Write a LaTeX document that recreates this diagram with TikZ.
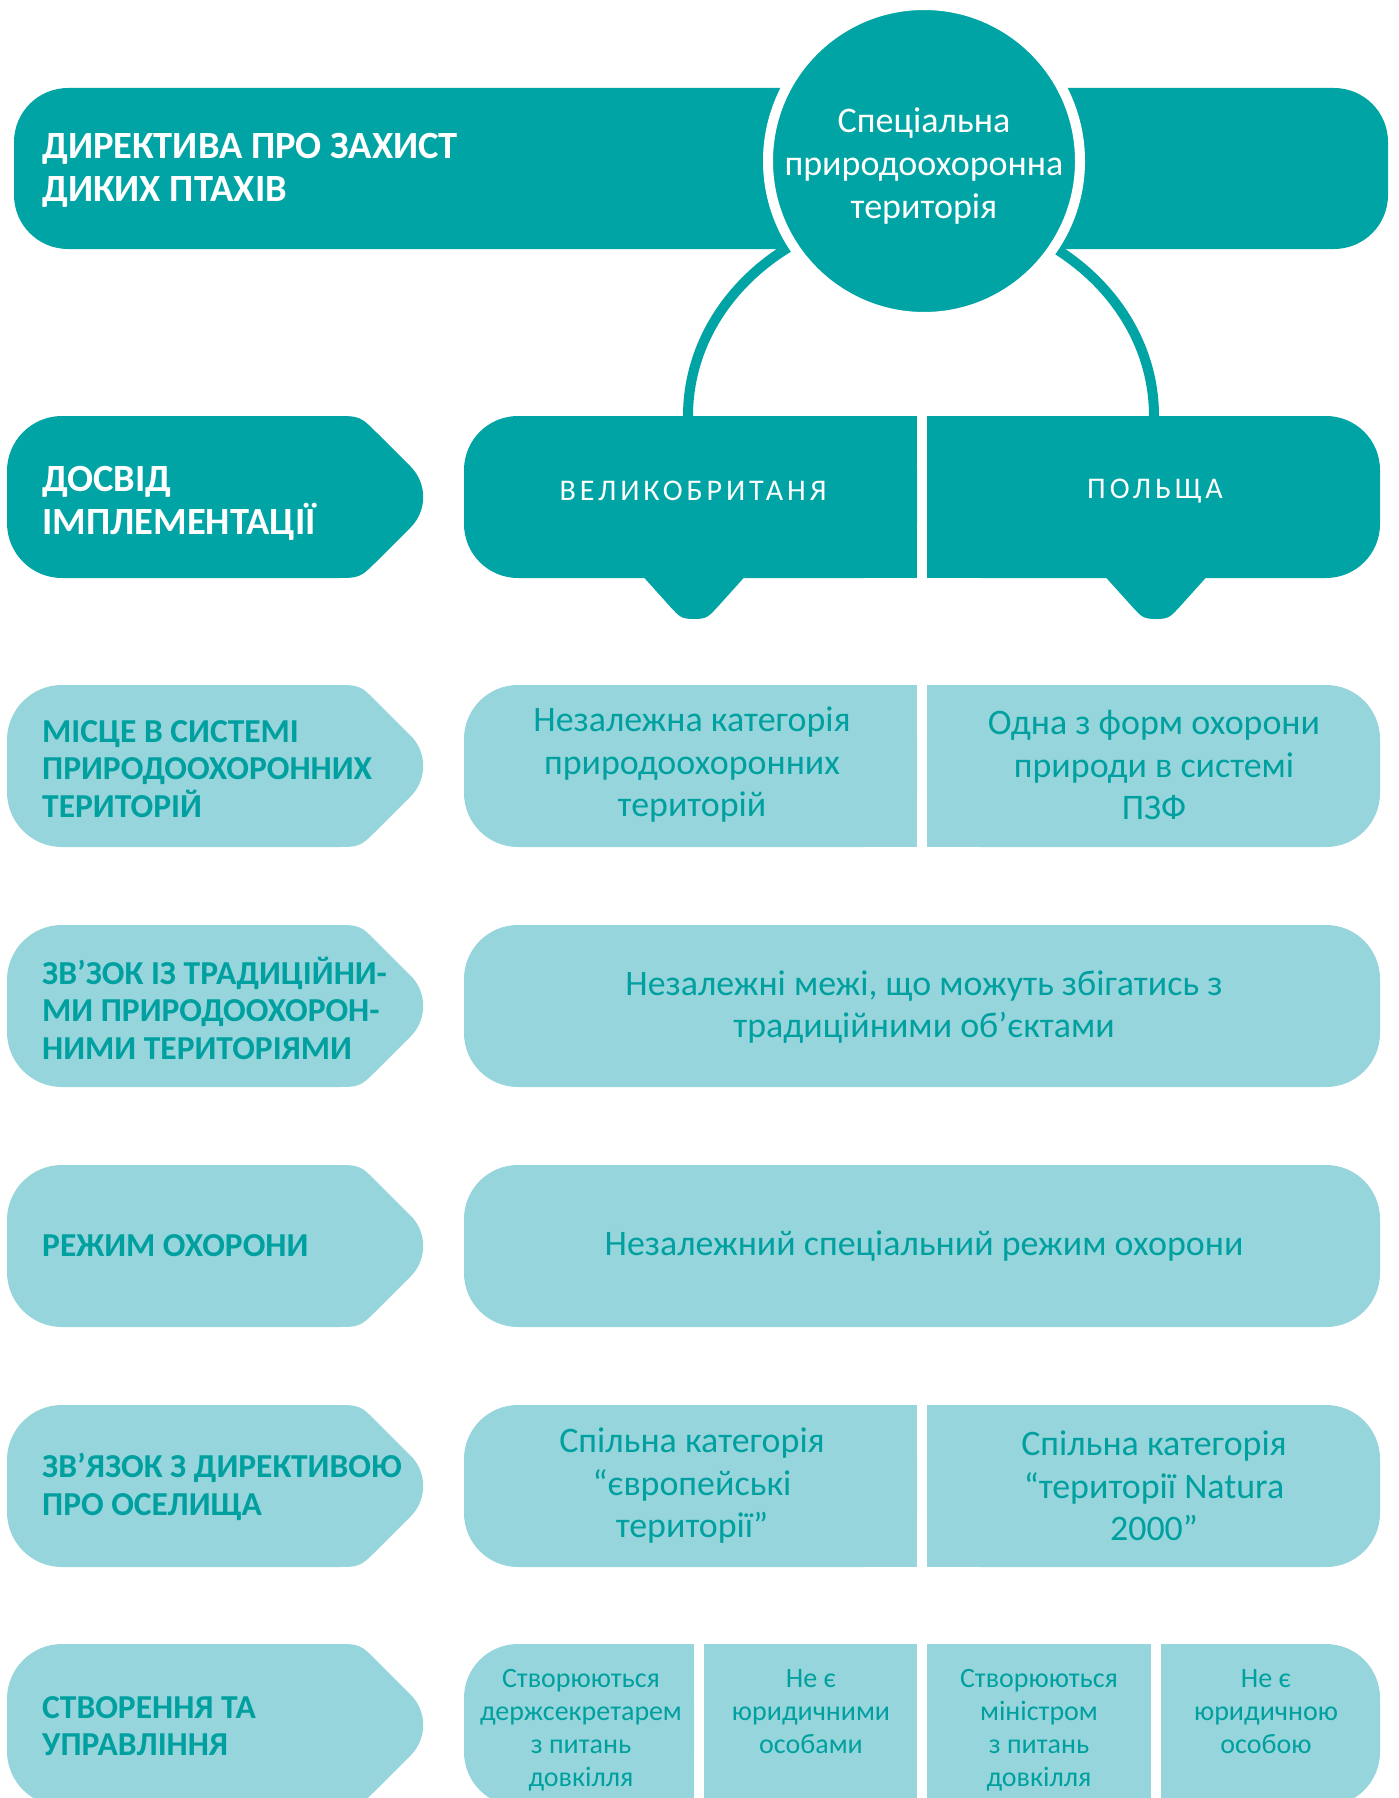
\documentclass[tikz,border=0pt]{standalone}
\usepackage{fontspec}
\setmainfont{Carlito}
\newfontfamily\spacedfont[LetterSpace=13]{Carlito}
\definecolor{dteal}{RGB}{0,164,164}
\definecolor{lteal}{RGB}{150,213,219}
\definecolor{tteal}{RGB}{0,160,160}
\newcommand{\lblshape}[2]{%
  \pgfmathsetmacro{\tT}{#1}%
  \pgfmathsetmacro{\tB}{#1+162}%
  \pgfmathsetmacro{\tM}{#1+81}%
  \fill[#2] (62,\tT) -- (335,\tT) .. controls (360,\tT) .. (377.7,\tT+17.7)
    -- (410.6,\tM-30.4) .. controls (427.4,\tM-13.6) and (427.4,\tM+13.6) .. (410.6,\tM+30.4)
    -- (377.7,\tB-17.7) .. controls (360,\tB) .. (335,\tB) -- (62,\tB)
    .. controls (31.6,\tB) and (7,\tB-24.6) .. (7,\tB-55) -- (7,\tT+55)
    .. controls (7,\tT+24.6) and (31.6,\tT) .. (62,\tT) -- cycle;
}
\newcommand{\tipshape}[1]{%
  \pgfmathsetmacro{\cx}{#1}%
  \fill[dteal] (\cx-55,572) -- (\cx-23.5,607)
    .. controls (\cx-14.6,616.5) and (\cx-13,619) .. (\cx,619)
    .. controls (\cx+13,619) and (\cx+14.6,616.5) .. (\cx+23.5,607)
    -- (\cx+55,572) -- cycle;
}
\tikzset{
  darklbl/.style={text=white, inner sep=0, align=left, anchor=west,
    font={\fontsize{38.5}{43}\selectfont\bfseries}},
  lightlbl/.style={text=tteal, inner sep=0, align=left, anchor=west,
    font={\fontsize{33.5}{37.5}\selectfont\bfseries}},
  paneltxt/.style={text=tteal, inner sep=0, align=center,
    font={\fontsize{35.9}{42.5}\selectfont}},
  smalltxt/.style={text=tteal, inner sep=0, align=center, anchor=north,
    font={\fontsize{28}{33}\selectfont}},
  circtxt/.style={text=white, inner sep=0, align=center,
    font={\fontsize{36}{43}\selectfont}},
  countrytxt/.style={text=white, inner sep=0, font={\fontsize{30}{36}\spacedfont}},
  rnd/.style={rounded corners=54},
  arcline/.style={draw=dteal, line width=10},
}
\begin{document}
\begin{tikzpicture}[x=1pt,y=-1pt]
\useasboundingbox (0,0) rectangle (1398,1798);
\clip (0,0) rectangle (1398,1798);
\fill[white] (0,0) rectangle (1398,1798);

% top bar
\fill[dteal, rnd] (14,88) rectangle (1388,249);
% arcs
\draw[arcline] (688,416) arc[start angle=180, end angle=360, x radius=233, y radius=205];
% circle
\draw[white, line width=10, fill=dteal] (924,161) circle[radius=156];
\node[circtxt] (spt) at (924,166) {Спеціальна\\природоохоронна\\територія};
\node[darklbl] (directive) at (42,170) {ДИРЕКТИВА ПРО ЗАХИСТ\\ДИКИХ ПТАХІВ};

% row 1
\lblshape{416}{dteal}
\node[darklbl] (dosvid) at (42,503) {ДОСВІД\\ІМПЛЕМЕНТАЦІЇ};
\fill[dteal, rnd] (464,416) rectangle (917,578);
\fill[dteal] (700,416) rectangle (917,578);
\fill[dteal, rnd] (927,416) rectangle (1380,578);
\fill[dteal] (927,416) rectangle (1150,578);
\tipshape{694}
\tipshape{1156}
\node[countrytxt] (uk) at (693,491) {ВЕЛИКОБРИТАНЯ};
\node[countrytxt] (pl) at (1155,491) {ПОЛЬЩА};

% row 2
\lblshape{685}{lteal}
\node[lightlbl] (misce) at (42,769) {МІСЦЕ В СИСТЕМІ\\ПРИРОДООХОРОННИХ\\ТЕРИТОРІЙ};
\fill[lteal, rnd] (464,685) rectangle (917,847);
\fill[lteal] (700,685) rectangle (917,847);
\fill[lteal, rnd] (927,685) rectangle (1380,847);
\fill[lteal] (927,685) rectangle (1150,847);
\node[paneltxt] (uk2) at (692,765) {Незалежна категорія\\природоохоронних\\територій};
\node[paneltxt] (pl2) at (1154,765) {Одна з форм охорони\\природи в системі\\ПЗФ};

% row 3
\lblshape{925}{lteal}
\node[lightlbl] (zvzok) at (42,1008) {ЗВ’ЗОК ІЗ ТРАДИЦІЙНИ-\\МИ ПРИРОДООХОРОН-\\НИМИ ТЕРИТОРІЯМИ};
\fill[lteal, rnd] (464,925) rectangle (1380,1087);
\node[paneltxt] (p3) at (924,1007) {Незалежні межі, що можуть збігатись з\\традиційними об’єктами};

% row 4
\lblshape{1165}{lteal}
\node[lightlbl] (rezhym) at (42,1246) {РЕЖИМ ОХОРОНИ};
\fill[lteal, rnd] (464,1165) rectangle (1380,1327);
\node[paneltxt] (p4) at (924,1246) {Незалежний спеціальний режим охорони};

% row 5
\lblshape{1405}{lteal}
\node[lightlbl] (zvyazok) at (42,1487) {ЗВ’ЯЗОК З ДИРЕКТИВОЮ\\ПРО ОСЕЛИЩА};
\fill[lteal, rnd] (464,1405) rectangle (917,1567);
\fill[lteal] (700,1405) rectangle (917,1567);
\fill[lteal, rnd] (927,1405) rectangle (1380,1567);
\fill[lteal] (927,1405) rectangle (1150,1567);
\node[paneltxt] (uk5) at (692,1486) {Спільна категорія\\“європейські\\території”};
\node[paneltxt] (pl5) at (1154,1486) {Спільна категорія\\“території Natura\\2000”};

% row 6
\lblshape{1644}{lteal}
\node[lightlbl] (stvor) at (42,1726) {СТВОРЕННЯ ТА\\УПРАВЛІННЯ};
\fill[lteal, rnd] (464,1644) rectangle (694,1806);
\fill[lteal] (580,1644) rectangle (694,1806);
\fill[lteal] (704,1644) rectangle (917,1806);
\fill[lteal] (927,1644) rectangle (1151,1806);
\fill[lteal, rnd] (1161,1644) rectangle (1380,1806);
\fill[lteal] (1161,1644) rectangle (1270,1806);
\node[smalltxt] (c1) at (581,1669) {Створюються\\держсекретарем\\з питань\\довкілля};
\node[smalltxt] (c2) at (811,1669) {Не є\\юридичними\\особами};
\node[smalltxt] (c3) at (1039,1669) {Створюються\\міністром\\з питань\\довкілля};
\node[smalltxt] (c4) at (1266,1669) {Не є\\юридичною\\особою};
\end{tikzpicture}
\end{document}
